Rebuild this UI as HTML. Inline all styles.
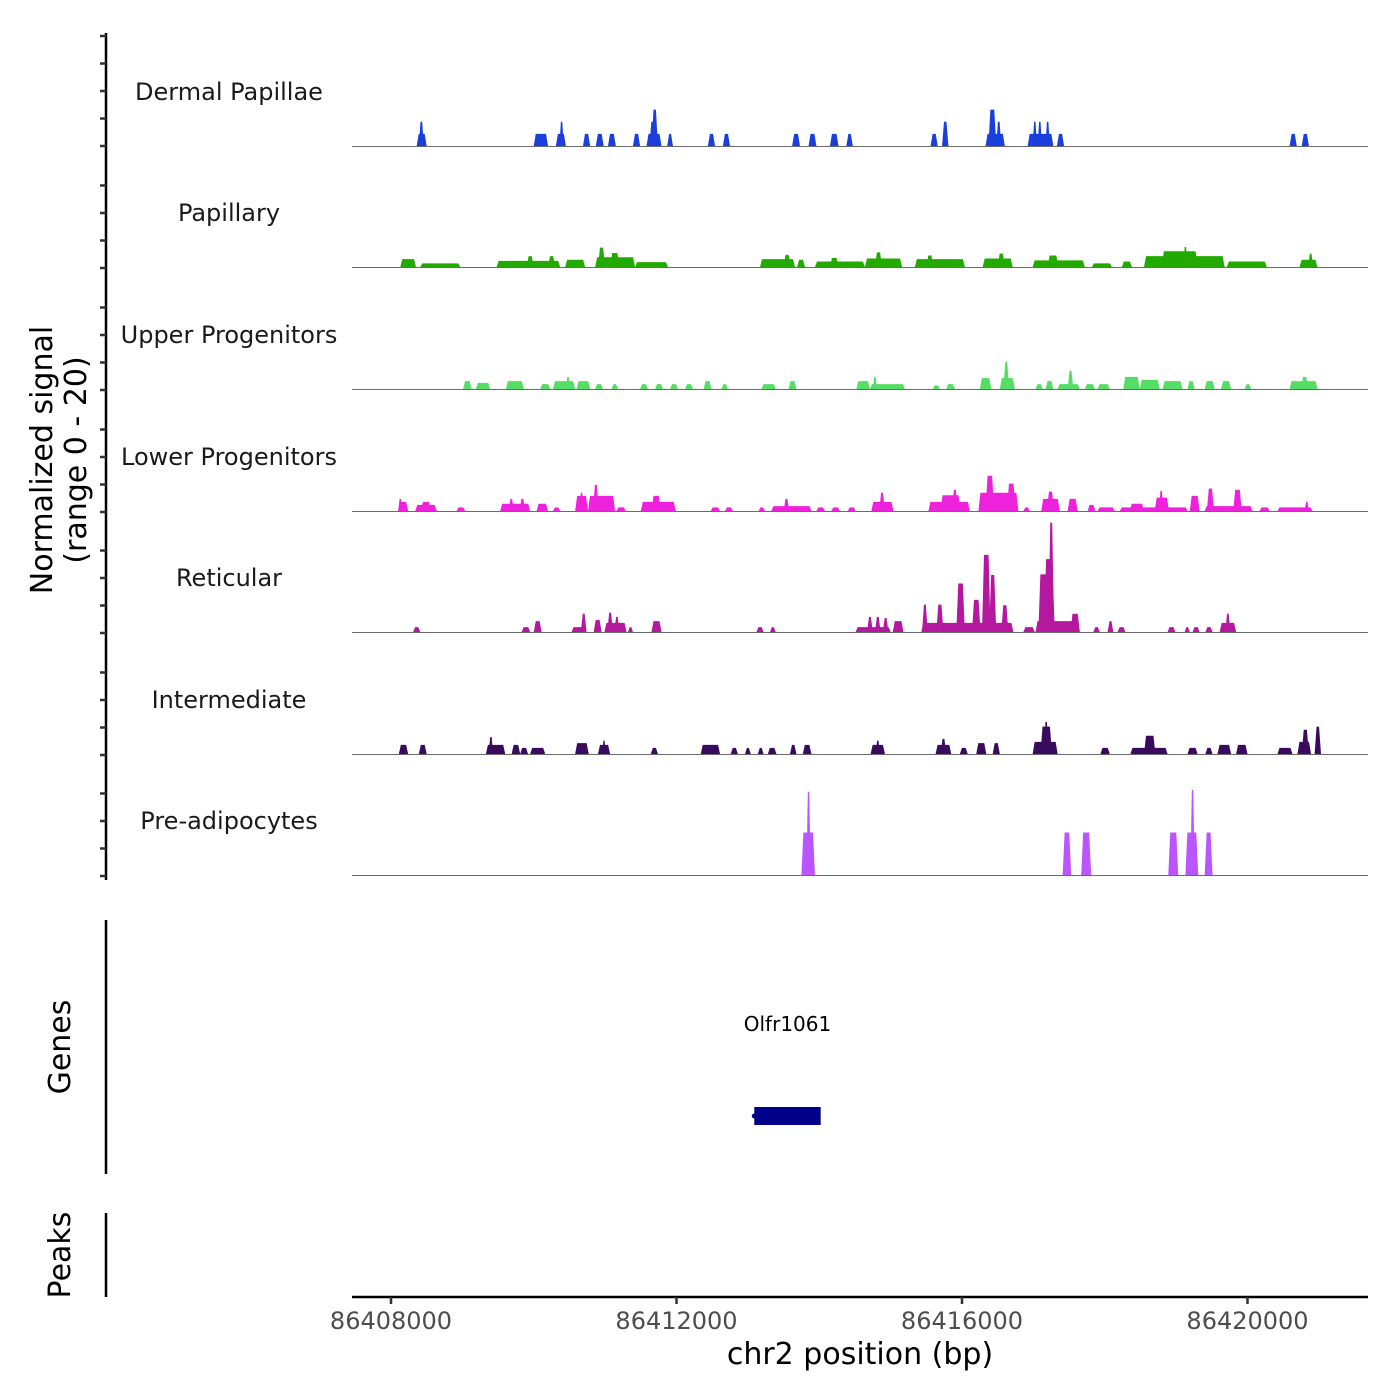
<!DOCTYPE html>
<html><head><meta charset="utf-8"><style>
html,body{margin:0;padding:0;background:#fff;}
svg{display:block;font-family:"DejaVu Sans","Liberation Sans",sans-serif;}
</style></head><body>
<svg id="chart" width="1400" height="1400" viewBox="0 0 1400 1400">
<g id="tracks"></g>
<g id="axes"></g>
</svg>
<script>
// x-axis domain & tick labels (kb)
const xTicks = [86408, 86412, 86416, 86420];
const trackNames = ["Dermal Papillae","Papillary","Upper Progenitors","Lower Progenitors","Reticular","Intermediate","Pre-adipocytes"];
const trackColors = ["#1a3fdd","#22aa00","#55dd66","#ee22dd","#b5179e","#3a0a5e","#bb55ff"];
// peaks: [startKb, endKb, normalized signal]
const dermalPapillae = [[86408.36,86408.50,2],[86408.39,86408.46,4],[86410.00,86410.20,2],[86410.31,86410.45,2],[86410.36,86410.42,4],[86410.69,86410.79,2],[86410.87,86410.98,2],[86411.04,86411.15,2],[86411.39,86411.49,2],[86411.58,86411.79,2],[86411.62,86411.73,4],[86411.65,86411.74,6],[86411.87,86411.95,2],[86412.44,86412.54,2],[86412.65,86412.75,2],[86413.62,86413.73,2],[86413.85,86413.96,2],[86414.15,86414.27,2],[86414.38,86414.47,2],[86415.56,86415.66,2],[86415.72,86415.81,4],[86416.33,86416.60,2],[86416.37,86416.48,6],[86416.48,86416.55,4],[86416.92,86417.28,2],[86416.99,86417.05,4],[86417.06,86417.12,4],[86417.17,86417.23,4],[86417.33,86417.43,2],[86420.59,86420.69,2],[86420.76,86420.86,2]];
const papillary = [[86408.13,86408.35,1.3],[86408.41,86408.97,0.6],[86409.48,86410.37,1.0],[86409.9,86410.0,1.8],[86410.2,86410.3,1.8],[86410.44,86410.72,1.2],[86410.86,86411.42,1.6],[86410.9,86411.0,3.2],[86411.07,86411.2,2.3],[86411.42,86411.88,0.8],[86413.17,86413.66,1.3],[86413.5,86413.6,2.0],[86413.69,86413.8,1.2],[86413.94,86414.64,0.9],[86414.15,86414.27,1.5],[86414.64,86415.16,1.4],[86414.78,86414.88,2.4],[86415.34,86416.04,1.3],[86415.5,86415.6,1.9],[86416.29,86416.71,1.4],[86416.5,86416.6,2.2],[86416.99,86417.72,1.1],[86417.2,86417.35,1.9],[86417.82,86418.1,0.6],[86418.24,86418.38,0.9],[86418.55,86419.68,1.8],[86418.8,86419.3,2.6],[86419.1,86419.16,3.3],[86419.71,86420.27,0.9],[86420.73,86420.98,1.2],[86420.85,86420.92,2.2]];
const upperProgenitors = [[86409.01,86409.13,1.3],[86409.19,86409.39,1],[86409.61,86409.86,1.3],[86410.09,86410.23,0.8],[86410.27,86410.58,1.3],[86410.45,86410.51,2],[86410.60,86410.79,1.3],[86410.86,86410.97,0.8],[86411.09,86411.18,0.8],[86411.49,86411.60,0.8],[86411.70,86411.81,0.8],[86411.91,86412.02,0.8],[86412.12,86412.23,0.8],[86412.38,86412.49,1.3],[86412.63,86412.72,0.8],[86413.19,86413.39,0.8],[86413.57,86413.68,1.3],[86414.52,86414.71,1.3],[86414.71,86415.20,0.8],[86414.75,86414.81,2],[86415.59,86415.69,0.6],[86415.78,86415.90,0.8],[86416.25,86416.41,1.8],[86416.53,86416.74,1.8],[86416.58,86416.66,4.5],[86417.03,86417.13,0.8],[86417.17,86417.28,1.3],[86417.34,86417.65,0.8],[86417.48,86417.56,3],[86417.72,86417.86,0.8],[86417.90,86418.07,0.8],[86418.26,86418.49,2],[86418.49,86418.77,1.5],[86418.81,86419.09,1.3],[86419.16,86419.26,1.3],[86419.40,86419.54,1.3],[86419.63,86419.77,1.3],[86419.96,86420.05,0.8],[86420.59,86420.98,1.3],[86420.75,86420.85,2]];
const lowerProgenitors = [[86408.10,86408.24,1.5],[86408.10,86408.16,2],[86408.34,86408.64,1],[86408.42,86408.56,1.5],[86408.92,86409.04,0.6],[86409.53,86409.95,1.2],[86409.65,86409.72,2],[86409.80,86409.88,2],[86410.04,86410.20,1.2],[86410.27,86410.37,0.6],[86410.58,86410.76,2.5],[86410.64,86410.70,3],[86410.76,86411.14,2.5],[86410.83,86410.91,4.3],[86411.16,86411.29,0.6],[86411.50,86411.99,1.5],[86411.65,86411.78,2.5],[86412.48,86412.61,0.6],[86412.68,86412.79,0.6],[86413.15,86413.24,0.6],[86413.33,86413.89,0.8],[86413.50,86413.58,2],[86413.96,86414.08,0.6],[86414.17,86414.29,0.6],[86414.40,86414.51,0.6],[86414.73,86415.04,1.5],[86414.84,86414.92,3],[86415.53,86416.11,1.5],[86415.70,86415.98,2.6],[86415.86,86415.94,3.5],[86416.23,86416.79,3],[86416.33,86416.45,5.8],[86416.63,86416.75,4.5],[86416.86,86416.95,0.6],[86417.11,86417.37,2],[86417.19,86417.29,3.2],[86417.48,86417.62,2],[86417.76,86417.87,1],[86417.90,86418.14,0.6],[86418.21,86419.16,0.6],[86418.35,86418.55,1.2],[86418.70,86418.90,2.2],[86418.76,86418.82,3.3],[86419.19,86419.33,2.5],[86419.40,86420.07,0.8],[86419.43,86419.53,3.7],[86419.80,86419.92,3.5],[86420.17,86420.31,0.6],[86420.42,86420.91,0.6],[86420.80,86420.86,1.5]];
const reticular = [[86408.31,86408.41,0.8],[86409.83,86409.95,0.8],[86410.00,86410.11,1.8],[86410.53,86410.74,0.8],[86410.66,86410.74,3],[86410.84,86410.95,2],[86410.99,86411.30,1.5],[86411.03,86411.11,3.2],[86411.13,86411.20,2.5],[86411.32,86411.39,0.8],[86411.65,86411.79,1.8],[86413.12,86413.22,0.8],[86413.31,86413.39,0.8],[86414.51,86415.00,0.8],[86414.67,86414.75,2.5],[86414.78,86414.86,2.5],[86414.89,86414.97,2.3],[86415.03,86415.18,1.8],[86415.43,86416.72,1.5],[86415.44,86415.52,4.5],[86415.64,86415.74,4.5],[86415.92,86416.04,8],[86416.14,86416.26,5.3],[86416.28,86416.40,12.7],[86416.38,86416.48,9.4],[86416.55,86416.65,4.4],[86416.86,86417.02,0.8],[86417.03,86417.65,1.8],[86417.07,86417.30,9.5],[86417.15,86417.28,12],[86417.21,86417.29,18],[86417.52,86417.65,3],[86417.84,86417.93,0.8],[86418.04,86418.12,1.8],[86418.18,86418.29,0.8],[86418.88,86418.99,0.8],[86419.12,86419.19,0.8],[86419.23,86419.33,0.8],[86419.41,86419.51,0.8],[86419.61,86419.84,1.5],[86419.69,86419.76,3]];
const intermediate = [[86408.11,86408.24,1.5],[86408.39,86408.50,1.5],[86409.33,86409.60,1.5],[86409.37,86409.43,2.8],[86409.69,86409.81,1.5],[86409.81,86409.92,1],[86409.95,86410.16,1],[86410.58,86410.77,1.8],[86410.90,86411.07,1.5],[86410.96,86411.01,2.2],[86411.64,86411.74,1],[86412.34,86412.61,1.5],[86412.76,86412.86,1],[86412.96,86413.04,1],[86413.14,86413.22,1],[86413.28,86413.40,1],[86413.59,86413.68,1.5],[86413.77,86413.89,1.5],[86414.72,86414.92,1.5],[86414.79,86414.85,2.2],[86415.63,86415.85,1.5],[86415.70,86415.78,2.5],[86415.97,86416.08,1],[86416.20,86416.34,1.8],[86416.43,86416.53,1.8],[86416.99,86417.34,2],[86417.10,86417.26,4.5],[86417.15,86417.21,5.3],[86417.94,86418.07,1],[86418.36,86418.88,1],[86418.55,86418.71,3],[86419.16,86419.30,1],[86419.41,86419.51,1],[86419.58,86419.77,1.5],[86419.84,86420.00,1.5],[86420.42,86420.63,1],[86420.70,86420.89,2],[86420.76,86420.86,4],[86420.94,86421.03,4.5]];
const preAdipocytes = [[86413.75,86413.94,7],[86413.82,86413.88,13.7],[86417.41,86417.53,7],[86417.67,86417.81,7],[86418.89,86419.03,7],[86419.13,86419.31,7],[86419.20,86419.26,14],[86419.40,86419.51,7]];
const trackData = [dermalPapillae,papillary,upperProgenitors,lowerProgenitors,reticular,intermediate,preAdipocytes];
const geneName = "Olfr1061";
const geneStart = 86413.09, geneEnd = 86414.02;

const NS = "http://www.w3.org/2000/svg";
const plotL = 352, plotR = 1368;
const xScale = kb => 391 + (kb - 86408) * (962 - 391) / 8;
const baselines = [146,267,389,511,632,754,875];
const unitPx = 6.07;
const yScale = (v, t) => baselines[t] - v * unitPx;
function mk(tag, attrs, parent) {
  const e = document.createElementNS(NS, tag);
  for (const k in attrs) e.setAttribute(k, attrs[k]);
  parent.appendChild(e); return e;
}
const tracksG = document.getElementById('tracks');
const axesG = document.getElementById('axes');

trackData.forEach((peaks, t) => {
  const g = mk('g', {}, tracksG);
  
  
  const lab = mk('text', {x: 229, y: baselines[t] - 46, 'text-anchor': 'middle', 'font-size': 24, fill: '#1a1a1a'}, g);
  lab.textContent = trackNames[t];
  
  
  peaks.forEach(p => {
    const x0 = xScale(p[0]), x1 = xScale(p[1]);
    const s = Math.min(2, (x1 - x0) / 3);
    const yb = baselines[t], yt = yScale(p[2], t);
    const poly = mk('polygon', {points: `${x0},${yb} ${x0+s},${yt} ${x1-s},${yt} ${x1},${yb}`, fill: trackColors[t]}, g);
    
    
  });
  const bl = mk('line', {x1: plotL, x2: plotR, y1: baselines[t] + 0.5, y2: baselines[t] + 0.5, stroke: '#6b6b6b', 'stroke-width': 1}, g);
  
  
});

// left y axis
const ya = mk('line', {x1: 106, x2: 106, y1: 33, y2: 880, stroke: '#000', 'stroke-width': 2.5}, axesG);


baselines.forEach((b, t) => {
  const ks = t === 0 ? [0,1,2,3,4] : [0,1,2,3];
  ks.forEach(k => {
    const y = b - k * 27.5 + (t === 0 ? 0 : 1);
    const tk = mk('line', {x1: 100, x2: 106, y1: y, y2: y, stroke: '#333', 'stroke-width': 2.5}, axesG);
    
    
  });
});
const yt = mk('text', {transform: 'translate(52,460) rotate(-90)', 'text-anchor': 'middle', 'font-size': 30, fill: '#000'}, axesG);


yt.innerHTML = '<tspan x="0" dy="0">Normalized signal</tspan><tspan x="0" dy="34">(range 0 - 20)</tspan>';

// genes panel
const ga = mk('line', {x1: 106, x2: 106, y1: 920, y2: 1174, stroke: '#000', 'stroke-width': 2.5}, axesG);


const gt = mk('text', {transform: 'translate(70,1047) rotate(-90)', 'text-anchor': 'middle', 'font-size': 30, fill: '#000'}, axesG);
gt.textContent = 'Genes';


const gr = mk('rect', {x: xScale(geneStart), y: 1107, width: xScale(geneEnd) - xScale(geneStart), height: 18, fill: '#00008b'}, axesG);


const gd = mk('circle', {cx: xScale(geneStart), cy: 1116, r: 2.5, fill: '#00008b'}, axesG);


const gl = mk('text', {x: (xScale(geneStart) + xScale(geneEnd)) / 2, y: 1031, 'text-anchor': 'middle', 'font-size': 20, fill: '#000'}, axesG);
gl.textContent = geneName;



// peaks panel
const pa = mk('line', {x1: 106, x2: 106, y1: 1213, y2: 1297, stroke: '#000', 'stroke-width': 2.5}, axesG);


const pt = mk('text', {transform: 'translate(70,1255) rotate(-90)', 'text-anchor': 'middle', 'font-size': 30, fill: '#000'}, axesG);
pt.textContent = 'Peaks';



// x axis
const xa = mk('line', {x1: plotL, x2: plotR, y1: 1297, y2: 1297, stroke: '#000', 'stroke-width': 2.5}, axesG);


xTicks.forEach(v => {
  const x = xScale(v);
  const tk = mk('line', {x1: x, x2: x, y1: 1297, y2: 1304, stroke: '#333', 'stroke-width': 2.5}, axesG);
  
  
  const tl = mk('text', {x: x, y: 1329, 'text-anchor': 'middle', 'font-size': 24, fill: '#4d4d4d'}, axesG);
  tl.textContent = String(v * 1000);
  
  
});
const xt = mk('text', {x: 860, y: 1364, 'text-anchor': 'middle', 'font-size': 30, fill: '#000'}, axesG);
xt.textContent = 'chr2 position (bp)';


</script>
</body></html>
